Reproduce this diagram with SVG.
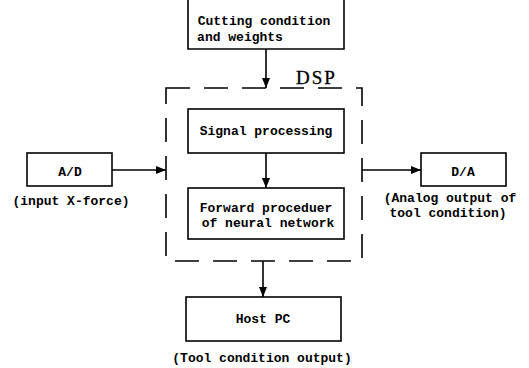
<svg xmlns="http://www.w3.org/2000/svg" width="529" height="368" viewBox="0 0 529 368">
  <style>
    .box { fill: #fff; stroke: #000; stroke-width: 1.6; }
    .dsp { fill: none; stroke: #000; stroke-width: 1.6; stroke-dasharray: 24 14; }
    .wire { fill: none; stroke: #000; stroke-width: 1.6; }
    .t { font-family: "Liberation Mono", "DejaVu Sans Mono", monospace; font-weight: bold; font-size: 13px; fill: #000; text-anchor: middle; }
    .title { font-family: "Liberation Serif", "DejaVu Serif", serif; font-size: 19px; fill: #000; stroke: #000; stroke-width: 0.3; letter-spacing: 2px; }
  </style>
  <defs>
    <marker id="arrow" viewBox="0 0 10 8" refX="10" refY="4" markerWidth="10" markerHeight="8" markerUnits="userSpaceOnUse" orient="auto">
      <path d="M0,0 L10,4 L0,8 Z" fill="#000"/>
    </marker>
  </defs>
  <rect width="529" height="368" fill="#fff"/>

  <!-- DSP boundary -->
  <g id="dsp">
    <rect class="dsp" x="166" y="88" width="196" height="173"/>
    <text class="title" x="296" y="84">DSP</text>
  </g>

  <g id="cutting">
    <path class="box" d="M188,-2 L188,49 L344,49 L344,-2"/>
    <text class="t" x="264" y="25">Cutting condition</text>
    <text class="t" x="240" y="41">and weights</text>
  </g>

  <g id="signal">
    <rect class="box" x="188" y="109" width="156" height="44"/>
    <text class="t" x="266" y="135">Signal processing</text>
  </g>

  <g id="neural">
    <rect class="box" x="188" y="188" width="156" height="51"/>
    <text class="t" x="266" y="212">Forward proceduer</text>
    <text class="t" x="268" y="227">of neural network</text>
  </g>

  <g id="ad">
    <rect class="box" x="27" y="153" width="85" height="33"/>
    <text class="t" x="70" y="176">A/D</text>
    <text class="t" x="71" y="205">(input X-force)</text>
  </g>

  <g id="da">
    <rect class="box" x="421" y="153" width="85" height="33"/>
    <text class="t" x="463" y="176">D/A</text>
    <text class="t" x="450" y="202">(Analog output of</text>
    <text class="t" x="448" y="217">tool condition)</text>
  </g>

  <g id="host">
    <rect class="box" x="186" y="297" width="155" height="44"/>
    <text class="t" x="263" y="323">Host PC</text>
    <text class="t" x="262" y="362">(Tool condition output)</text>
  </g>

  <g id="connectors">
    <line class="wire" x1="266" y1="49" x2="266" y2="88" marker-end="url(#arrow)"/>
    <line class="wire" x1="266" y1="153" x2="266" y2="188" marker-end="url(#arrow)"/>
    <line class="wire" x1="112" y1="170" x2="166" y2="170" marker-end="url(#arrow)"/>
    <line class="wire" x1="362" y1="170" x2="421" y2="170" marker-end="url(#arrow)"/>
    <line class="wire" x1="263" y1="261" x2="263" y2="297" marker-end="url(#arrow)"/>
  </g>
</svg>
